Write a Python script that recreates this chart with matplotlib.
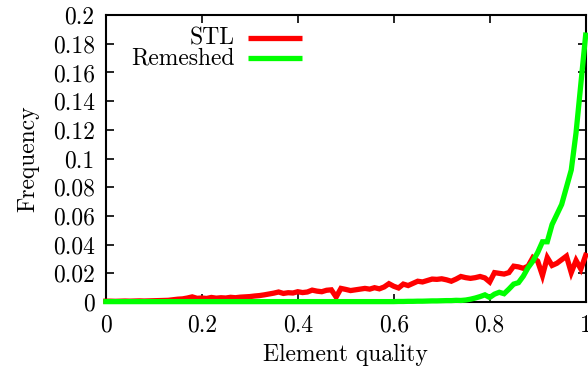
import numpy as np
import matplotlib
matplotlib.use("Agg")
import matplotlib.pyplot as plt

plt.rcParams["font.family"] = "cmr10"
plt.rcParams["axes.unicode_minus"] = False
plt.rcParams["mathtext.fontset"] = "cm"

# Element quality bins (0.00 ... 1.00, step 0.01)
quality = np.arange(101) / 100.0

# Histogram frequencies, STL mesh
stl = [
    0.0006, 0.0006, 0.0005, 0.0006, 0.0007, 0.0006, 0.0007, 0.0008, 0.0007, 0.0008,
    0.0009, 0.0010, 0.0011, 0.0012, 0.0016, 0.0020, 0.0022, 0.0028, 0.0036, 0.0026,
    0.0028, 0.0025, 0.0032, 0.0027, 0.0030, 0.0028, 0.0033, 0.0030, 0.0034, 0.0036,
    0.0038, 0.0042, 0.0045, 0.0050, 0.0056, 0.0062, 0.0070, 0.0060, 0.0065, 0.0063,
    0.0072, 0.0066, 0.0070, 0.0083, 0.0076, 0.0072, 0.0082, 0.0085, 0.0035, 0.0095,
    0.0088, 0.0080, 0.0085, 0.0090, 0.0095, 0.0090, 0.0100, 0.0092, 0.0105, 0.0128,
    0.0110, 0.0098, 0.0125, 0.0115, 0.0130, 0.0145, 0.0140, 0.0150, 0.0160, 0.0158,
    0.0162, 0.0155, 0.0145, 0.0160, 0.0178, 0.0170, 0.0165, 0.0170, 0.0178, 0.0168,
    0.0140, 0.0205, 0.0200, 0.0195, 0.0205, 0.0250, 0.0245, 0.0235, 0.0250, 0.0310,
    0.0285, 0.0185, 0.0310, 0.0255, 0.0270, 0.0295, 0.0320, 0.0205, 0.0290, 0.0230,
    0.0325,
]

# Histogram frequencies, remeshed surface
remeshed = [
    0.0003, 0.0003, 0.0003, 0.0003, 0.0003, 0.0003, 0.0003, 0.0003, 0.0003, 0.0003,
    0.0003, 0.0003, 0.0003, 0.0003, 0.0003, 0.0003, 0.0003, 0.0003, 0.0003, 0.0003,
    0.0003, 0.0003, 0.0003, 0.0003, 0.0003, 0.0003, 0.0003, 0.0003, 0.0003, 0.0003,
    0.0003, 0.0003, 0.0003, 0.0003, 0.0003, 0.0003, 0.0003, 0.0003, 0.0003, 0.0003,
    0.0003, 0.0003, 0.0003, 0.0003, 0.0003, 0.0003, 0.0003, 0.0003, 0.0003, 0.0003,
    0.0003, 0.0003, 0.0003, 0.0003, 0.0003, 0.0003, 0.0003, 0.0003, 0.0003, 0.0003,
    0.0003, 0.0004, 0.0004, 0.0005, 0.0005, 0.0006, 0.0006, 0.0007, 0.0008, 0.0008,
    0.0009, 0.0010, 0.0010, 0.0012, 0.0011, 0.0014, 0.0020, 0.0028, 0.0038, 0.0050,
    0.0032, 0.0055, 0.0068, 0.0058, 0.0090, 0.0125, 0.0135, 0.0180, 0.0240, 0.0285,
    0.0345, 0.0420, 0.0420, 0.0540, 0.0610, 0.0680, 0.0800, 0.0920, 0.1180, 0.1520,
    0.1860,
]

x_ticks = [0, 0.2, 0.4, 0.6, 0.8, 1]
x_tick_labels = ["0", "0.2", "0.4", "0.6", "0.8", "1"]
y_ticks = [0, 0.02, 0.04, 0.06, 0.08, 0.1, 0.12, 0.14, 0.16, 0.18, 0.2]
y_tick_labels = ["0", "0.02", "0.04", "0.06", "0.08", "0.1", "0.12", "0.14",
                 "0.16", "0.18", "0.2"]

series = [("STL", stl, "#ff0000"), ("Remeshed", remeshed, "#00ff00")]

fig = plt.figure(figsize=(5.88, 3.67), dpi=100)
ax = fig.add_axes([0.180, 0.177, 0.816, 0.782])

for name, vals, color in series:
    ax.plot(quality, vals, color=color, lw=3.8, solid_joinstyle="miter",
            clip_on=False, zorder=3)

ax.set_xlim(0, 1)
ax.set_ylim(0, 0.2)
ax.set_xticks(x_ticks)
ax.set_xticklabels(x_tick_labels)
ax.set_yticks(y_ticks)
ax.set_yticklabels(y_tick_labels)
ax.tick_params(direction="in", length=5.5, width=1.2, labelsize=17,
               top=True, right=True)
ax.tick_params(axis="x", pad=9)
ax.tick_params(axis="y", pad=8)
for sp in ax.spines.values():
    sp.set_linewidth(1.5)

ax.set_xlabel("Element quality", fontsize=17, labelpad=5)
ax.set_ylabel("Frequency", fontsize=17, labelpad=10)

# Key in the upper-left corner: label right-aligned, sample line to its right
key_y = [0.920, 0.850]
for (name, vals, color), ky in zip(series, key_y):
    ax.text(0.269, ky, name, transform=ax.transAxes, ha="right", va="center",
            fontsize=17)
    ax.plot([0.296, 0.408], [ky, ky], transform=ax.transAxes, color=color,
            lw=3.8, solid_capstyle="butt")

fig.savefig("out.png", dpi=100)
